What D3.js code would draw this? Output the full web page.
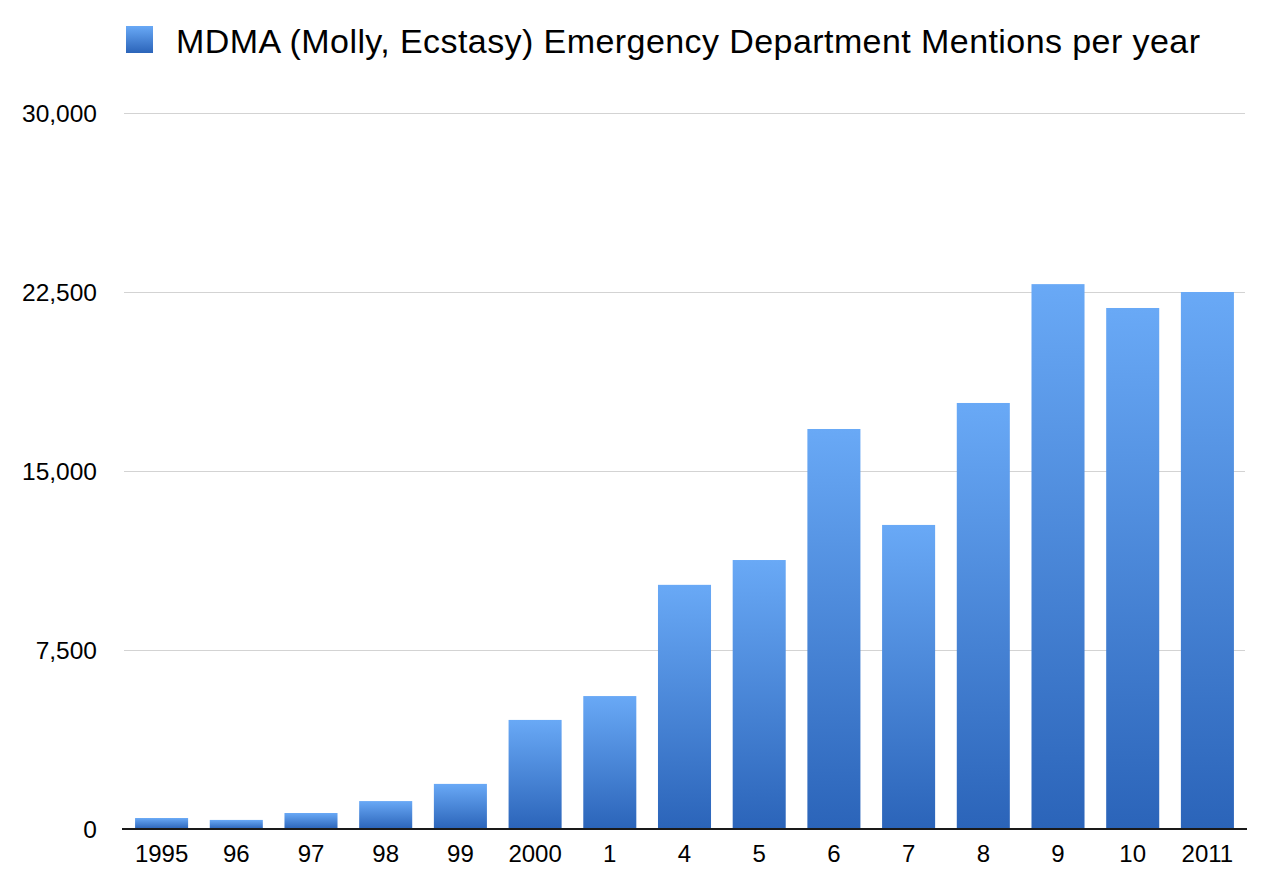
<!DOCTYPE html>
<html><head><meta charset="utf-8">
<script src="https://cdn.jsdelivr.net/npm/d3@7"></script>
<style>body{margin:0;background:#fff}svg{display:block}</style>
</head><body>
<svg id="c" width="1270" height="876"></svg>
<script>
const categories = ["1995","96","97","98","99","2000","1","4","5","6","7","8","9","10","2011"];
const values = [460,380,670,1170,1890,4570,5570,10230,11270,16760,12740,17850,22830,21830,22500];
const yTicks = [0,7500,15000,22500,30000];
const seriesName = "MDMA (Molly, Ecstasy) Emergency Department Mentions per year";

(function(){
const svg = d3.select("#c");
const font = "'Liberation Sans', Arial, Helvetica, sans-serif";
const pLeft = 122, pRight = 1247, pTop = 113, pBottom = 829;

const defs = svg.append("defs");
const grad = defs.append("linearGradient").attr("id","g").attr("x1",0).attr("y1",0).attr("x2",0).attr("y2",1);
grad.append("stop").attr("offset","0%").attr("stop-color","#69a9f6");
grad.append("stop").attr("offset","100%").attr("stop-color","#2b64b9");

const x = d3.scaleBand().domain(categories).range([pLeft,pRight]).paddingInner(0.29).paddingOuter(0.175);
const y = d3.scaleLinear().domain([0,30000]).range([pBottom,pTop]);

svg.append("g").selectAll("line").data(yTicks.filter(d=>d>0)).join("line")
  .attr("x1",pLeft+2).attr("x2",pRight-2)
  .attr("y1",d=>Math.round(y(d))+0.5).attr("y2",d=>Math.round(y(d))+0.5)
  .attr("stroke","#d3d3d3").attr("stroke-width",1);

svg.append("g").selectAll("text").data(yTicks).join("text")
  .attr("x",97).attr("y",d=>y(d)).attr("dy","0.38em")
  .attr("text-anchor","end").attr("font-family",font).attr("font-size",24.5).attr("fill","#000")
  .text(d=>d3.format(",")(d));

svg.append("g").selectAll("rect").data(values).join("rect")
  .attr("x",(d,i)=>x(categories[i])).attr("width",x.bandwidth())
  .attr("y",d=>y(d)).attr("height",d=>y(0)-y(d))
  .attr("fill","url(#g)");

svg.append("line").attr("x1",pLeft).attr("x2",pRight).attr("y1",pBottom).attr("y2",pBottom)
  .attr("stroke","#1a1a1a").attr("stroke-width",2);

svg.append("g").selectAll("text").data(categories).join("text")
  .attr("x",d=>x(d)+x.bandwidth()/2).attr("y",862)
  .attr("text-anchor","middle").attr("font-family",font).attr("font-size",24).attr("fill","#000")
  .text(d=>d);

svg.append("rect").attr("x",126).attr("y",26).attr("width",27).attr("height",27).attr("fill","url(#g)");
svg.append("text").attr("x",176).attr("y",53).attr("font-family",font).attr("font-size",34).attr("fill","#000")
  .attr("textLength",1024).attr("lengthAdjust","spacing")
  .text(seriesName);
})();
</script>
</body></html>
